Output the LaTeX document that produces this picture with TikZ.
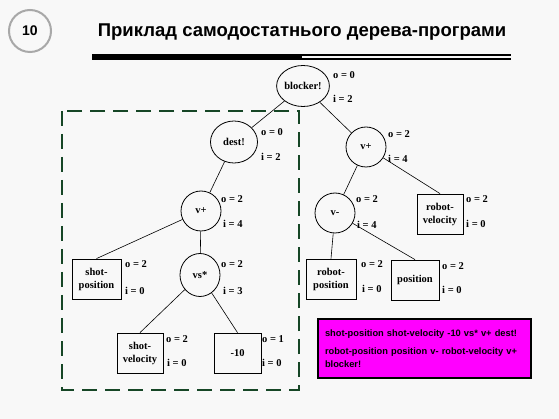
\documentclass[tikz,border=0pt]{standalone}
\usepackage{fontspec}
\setmainfont{Liberation Serif}
\newfontfamily\headfont{Liberation Sans}
\usetikzlibrary{shapes.geometric}
\definecolor{slidebg}{RGB}{248,248,248}
\definecolor{framegreen}{RGB}{22,70,38}
\definecolor{ringgray}{RGB}{168,168,168}
\definecolor{notefill}{RGB}{255,0,255}
\tikzset{
    fn/.style={
        draw,
        ellipse,
        inner sep=0pt,
        minimum width=40pt,
        minimum height=40pt,
        line width=0.8pt,
        font=\fontsize{10.5}{12}\selectfont\bfseries
    },
    term/.style={
        draw,
        rectangle,
        align=center,
        inner sep=0pt,
        minimum height=40pt,
        line width=0.8pt,
        font=\fontsize{10.5}{13}\selectfont\bfseries
    },
    lbl/.style={
        anchor=west,
        inner sep=0pt,
        font=\fontsize{10.5}{12}\selectfont\bfseries
    },
    edge/.style={line width=0.6pt},
    subtree/.style={
        draw=framegreen,
        line width=2.5pt,
        dash pattern=on 15pt off 8pt
    },
    summary/.style={
        draw,
        fill=notefill,
        line width=1.2pt,
        minimum width=213pt,
        minimum height=59pt,
        text width=199pt,
        align=left,
        inner sep=0pt,
        font=\headfont\fontsize{9.3}{13}\selectfont\bfseries
    }
}
\begin{document}
\begin{tikzpicture}[x=1pt, y=-1pt]

\fill[slidebg] (0,0) rectangle (559,419);
\useasboundingbox (0,0) rectangle (559,419);

\node[draw=ringgray, circle, line width=2pt, minimum size=42pt, inner sep=0pt,
      font=\headfont\fontsize{14}{16}\selectfont\bfseries] (slideno) at (30,31) {10};
\node[anchor=base, inner sep=0pt,
      font=\headfont\fontsize{18.5}{22}\selectfont\bfseries] (title)
    at (302,37) {Приклад самодостатнього дерева-програми};
\draw[line width=5.5pt] (92,57) -- (302,57);
\draw[line width=1.3pt] (302,55) -- (511,55);
\draw[line width=1.3pt] (302,59) -- (511,59);

\draw[subtree] (62,111) rectangle (299,390);

\node[fn, minimum width=52pt, minimum height=41pt] (blocker) at (303,86) {blocker!};
\node[fn, minimum width=47pt, minimum height=42pt] (dest) at (234,142) {dest!};
\node[fn] (vplusr) at (366,147) {v+};
\node[fn] (vplusl) at (201,211) {v+};
\node[fn, minimum height=43pt] (vsmul) at (200,275) {vs*};
\node[fn] (vminus) at (335,213) {v-};

\node[term, minimum width=49pt] (shotpos) at (96.5,279) {shot-\\position};
\node[term, minimum width=46pt] (shotvel) at (140,353) {shot-\\velocity};
\node[term, minimum width=47pt] (negten) at (237.5,353) {-10};
\node[term, minimum width=46pt] (robvel) at (440,214) {robot-\\velocity};
\node[term, minimum width=50pt] (robpos) at (331,279) {robot-\\position};
\node[term, minimum width=48pt] (posn) at (415,280) {position};

\node[lbl] (blockero) at (333,75) {o = 0};
\node[lbl] (blockeri) at (333,99) {i = 2};
\node[lbl] (desto) at (261,132) {o = 0};
\node[lbl] (desti) at (261,157) {i = 2};
\node[lbl] (vplusro) at (388,134) {o = 2};
\node[lbl] (vplusri) at (388,159) {i = 4};
\node[lbl] (vpluslo) at (221,199) {o = 2};
\node[lbl] (vplusli) at (223,224) {i = 4};
\node[lbl] (vsmulo) at (221,264) {o = 2};
\node[lbl] (vsmuli) at (223,291) {i = 3};
\node[lbl] (vminuso) at (356,199) {o = 2};
\node[lbl] (vminusi) at (357,225) {i = 4};
\node[lbl] (shotposo) at (125,264) {o = 2};
\node[lbl] (shotposi) at (125,291) {i = 0};
\node[lbl] (shotvelo) at (166,339) {o = 2};
\node[lbl] (shotveli) at (167,363) {i = 0};
\node[lbl] (negteno) at (262,339) {o = 1};
\node[lbl] (negteni) at (262,363) {i = 0};
\node[lbl] (robvelo) at (466,199) {o = 2};
\node[lbl] (robveli) at (466,224) {i = 0};
\node[lbl] (robposo) at (361,264) {o = 2};
\node[lbl] (robposi) at (362,289) {i = 0};
\node[lbl] (posno) at (442,266) {o = 2};
\node[lbl] (posni) at (442,290) {i = 0};

\node[summary] (order) at (424.5,348.5)
    {shot-position shot-velocity -10 vs* v+ dest!\\[5pt]
     robot-position position v- robot-velocity v+\\blocker!};

\draw[edge] (blocker) -- (dest);
\draw[edge] (blocker) -- (vplusr);
\draw[edge] (dest) -- (vplusl);
\draw[edge] (vplusl) -- (shotpos.north);
\draw[edge] (vplusl) -- (vsmul);
\draw[edge] (vsmul) -- (shotvel.north);
\draw[edge] (vsmul) -- (negten.north);
\draw[edge] (vplusr) -- (vminus);
\draw[edge] (vplusr) -- (robvel.north);
\draw[edge] (vminus) -- (robpos.north);
\draw[edge] (vminus) -- (posn.north);

\end{tikzpicture}
\end{document}
